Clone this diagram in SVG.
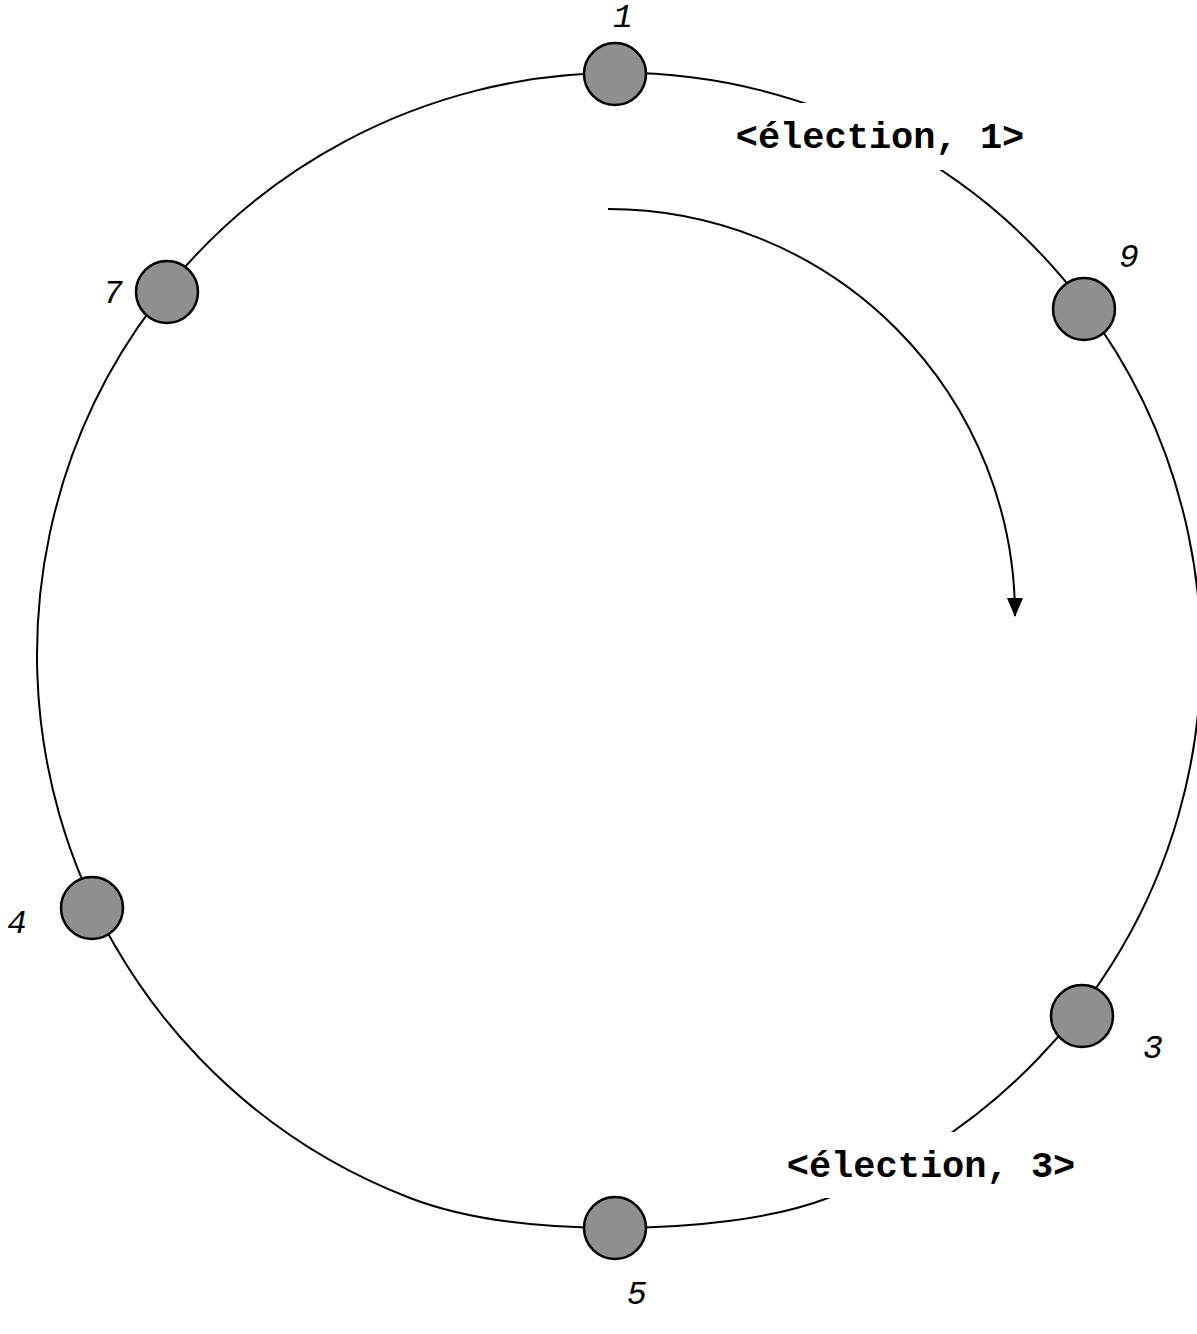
<svg xmlns="http://www.w3.org/2000/svg" width="1197" height="1334" viewBox="0 0 1197 1334">
  <style>
    .ring { fill: none; stroke: #000; stroke-width: 2; }
    .node { fill: #8f8f8f; stroke: #000; stroke-width: 2.5; }
    .id { font-family: "Liberation Mono", "Courier New", monospace; font-style: italic; font-size: 33px; fill: #000; text-anchor: middle; }
    .msg { font-family: "Liberation Mono", "Courier New", monospace; font-weight: bold; font-size: 37px; fill: #000; text-anchor: middle; }
    .mask { fill: #fff; stroke: none; }
    .flow { fill: none; stroke: #000; stroke-width: 2; }
  </style>
  <defs>
    <marker id="head" viewBox="0 0 19 16" refX="18" refY="8" markerWidth="19" markerHeight="16" markerUnits="userSpaceOnUse" orient="auto">
      <path d="M0,0 L19,8 L0,16 z" fill="#000"/>
    </marker>
  </defs>
  <rect width="1197" height="1334" fill="#fff"/>

  <!-- the ring of processes: circular arc over the top, flatter curve along the bottom -->
  <path class="ring" d="M410,1198 A582,582 0 1 1 828,1198 C772,1219.5 690,1228 615,1228 C540,1228 466,1219.5 410,1198 Z"/>

  <!-- election messages travelling on the ring -->
  <g id="msg1">
    <rect class="mask" x="724" y="103" width="312" height="67"/>
    <text class="msg" x="880" y="148">&lt;élection, 1&gt;</text>
  </g>
  <g id="msg3">
    <rect class="mask" x="776" y="1132" width="310" height="66"/>
    <text class="msg" x="931" y="1177">&lt;élection, 3&gt;</text>
  </g>

  <!-- direction of travel -->
  <g id="connectors">
    <path class="flow" d="M608,209 A407,407 0 0 1 1015,616" marker-end="url(#head)"/>
  </g>

  <!-- processes -->
  <g id="p1"><circle class="node" cx="615" cy="74" r="31"/><text class="id" x="623" y="27">1</text></g>
  <g id="p9"><circle class="node" cx="1084" cy="309" r="31"/><text class="id" x="1129" y="267">9</text></g>
  <g id="p7"><circle class="node" cx="167" cy="292" r="31"/><text class="id" x="113" y="303">7</text></g>
  <g id="p4"><circle class="node" cx="92" cy="908" r="31"/><text class="id" x="17" y="933">4</text></g>
  <g id="p3"><circle class="node" cx="1082" cy="1016" r="31"/><text class="id" x="1153" y="1058">3</text></g>
  <g id="p5"><circle class="node" cx="615" cy="1228" r="31"/><text class="id" x="637" y="1304">5</text></g>
</svg>
